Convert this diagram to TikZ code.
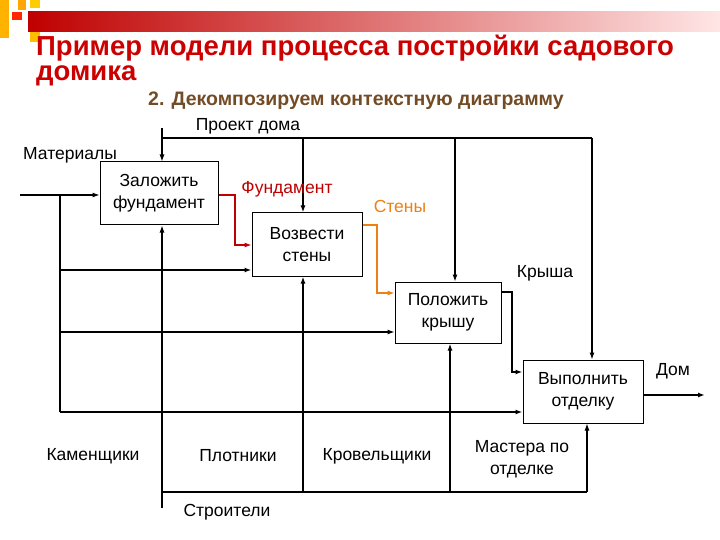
\documentclass[tikz,border=0pt]{standalone}
\usepackage{fontspec}
\setmainfont{Liberation Sans}
\usetikzlibrary{arrows.meta}
\begin{document}
\begin{tikzpicture}[x=1pt,y=-1pt,
  box/.style={draw,line width=1pt,inner sep=0pt,align=center,font=\fontsize{17.5}{22}\selectfont},
  lbl/.style={font=\fontsize{17.5}{22}\selectfont,align=center,inner sep=0pt},
  ln/.style={line width=1.1pt},
  thk/.style={line width=2pt},
  arr/.style={-{Latex[length=7pt,width=5pt]}}]
\useasboundingbox (0,0) rectangle (720,540);
\fill[white] (0,0) rectangle (720,540);
% decoration
\shade[left color=red!75!black,right color=red!10] (28,12) rectangle (720,32);
\fill[orange!60!yellow] (0,0) rectangle (9,38);
\fill[orange!70!yellow] (18,0) rectangle (26,10);
\fill[red!70!orange] (12,12) rectangle (22,20);
\fill[orange!40!yellow] (30,0) rectangle (40,8);
\fill[orange!50!yellow] (30,32) rectangle (40,42);
% title
\node[anchor=west,inner sep=0pt,text=red!80!black,font=\fontsize{27.5}{30}\bfseries\selectfont] (t1) at (36,48) {Пример модели процесса постройки садового};
\node[anchor=west,inner sep=0pt,text=red!80!black,font=\fontsize{27.5}{30}\bfseries\selectfont] (t2) at (36,76) {домика};
\node[anchor=west,inner sep=0pt,text=brown!60!black,font=\fontsize{19.5}{22}\bfseries\selectfont] (t3) at (148,101) {2. Декомпозируем контекстную диаграмму};
% boxes
\node[box,minimum width=118pt,minimum height=63pt] (b1) at (159,193.5) {Заложить\\фундамент};
\node[box,minimum width=110pt,minimum height=63pt] (b2) at (307,244.5) {Возвести\\стены};
\node[box,minimum width=106pt,minimum height=61pt] (b3) at (448,312.5) {Положить\\крышу};
\node[box,minimum width=120pt,minimum height=63pt] (b4) at (583,391.5) {Выполнить\\отделку};
% coordinates
\coordinate (min) at (20,195);
\coordinate (mb) at (60,412);
\coordinate (ctop) at (162,128);
\coordinate (mech) at (162,508);
\coordinate (dom) at (705,395);
% inputs
\draw[ln,arr] (min) -- (b1.west |- min);
\draw[ln] (60,195) -- (mb);
\draw[thk,arr] (60,270) -- (b2.west |- 0,270);
\draw[ln,arr] (60,332) -- (b3.west |- 0,332);
\draw[thk,arr] (mb) -- (b4.west |- mb);
% controls
\draw[ln,arr] (ctop) -- (b1.north -| ctop);
\draw[ln] (162,138) -- (592,138);
\draw[thk,arr] (303,138) -- (b2.north -| 303,0);
\draw[ln,arr] (455,138) -- (b3.north -| 455,0);
\draw[ln,arr] (592,138) -- (b4.north -| 592,0);
% mechanisms
\draw[ln,arr] (mech) -- (b1.south -| mech);
\draw[ln] (162,492) -- (587,492);
\draw[thk,arr] (303,492) -- (b2.south -| 303,0);
\draw[thk,arr] (450,492) -- (b3.south -| 450,0);
\draw[ln,arr] (587,492) -- (b4.south -| 587,0);
% outputs
\draw[ln,arr,red!75!black] (b1.east |- 0,195) -- (235,195) -- (235,245) -- (b2.west |- 0,245);
\draw[ln,arr,orange!70!brown] (b2.east |- 0,225) -- (377,225) -- (377,293) -- (b3.west |- 0,293);
\draw[thk,arr] (b3.east |- 0,292) -- (512,292) -- (512,372) -- (b4.west |- 0,372);
\draw[thk,arr] (b4.east |- dom) -- (dom);
% labels
\node[lbl] (l1) at (248,126) {Проект дома};
\node[lbl] (l2) at (70,155) {Материалы};
\node[lbl,text=red!75!black] (l3) at (287,189) {Фундамент};
\node[lbl,text=orange!70!brown] (l4) at (400,206) {Стены};
\node[lbl] (l5) at (545,273) {Крыша};
\node[lbl] (l6) at (673,371) {Дом};
\node[lbl] (l7) at (93,456) {Каменщики};
\node[lbl] (l8) at (238,456) {Плотники};
\node[lbl] (l9) at (377,456) {Кровельщики};
\node[lbl] (l10) at (522,459) {Мастера по\\отделке};
\node[lbl] (l11) at (227,512) {Строители};
\end{tikzpicture}
\end{document}
